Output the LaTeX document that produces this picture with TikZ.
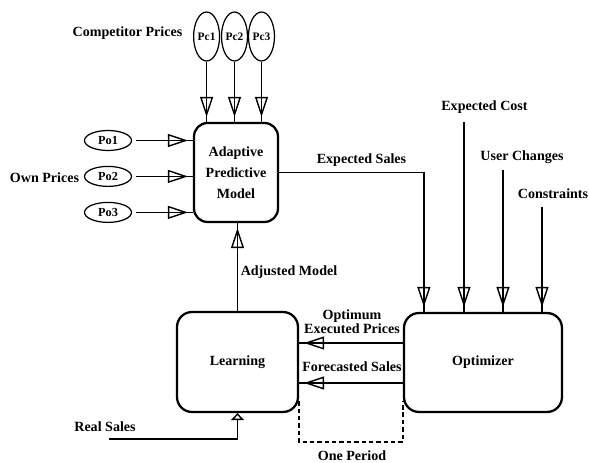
\documentclass[tikz,border=0pt]{standalone}
\usepackage{fontspec}
\setmainfont{Liberation Serif}
\usetikzlibrary{arrows.meta,shapes.geometric,decorations.markings}

\begin{document}
\begin{tikzpicture}[x=0.02cm,y=-0.02cm,
    font=\bfseries\fontsize{8}{12}\selectfont,
    block/.style={draw,line width=1.3pt,rounded corners=0.27cm,align=center,inner sep=0pt},
    cprice/.style={draw,ellipse,line width=0.7pt,inner sep=0pt,minimum width=0.52cm,minimum height=0.98cm,font=\bfseries\fontsize{6.5}{8}\selectfont},
    oprice/.style={cprice,minimum width=0.94cm,minimum height=0.4cm,font=\bfseries\fontsize{7}{8}\selectfont},
    feed/.style={draw,line width=0.8pt,postaction={decorate},
        decoration={markings,mark=at position -0.1cm with {\arrow{Triangle[open,length=0.4cm,width=0.26cm]}}}},
    period/.style={line width=0.8pt,dash pattern=on 2.5pt off 1.7pt}]
\useasboundingbox (0,0) rectangle (589,463);
    \node[block,minimum width=1.68cm,minimum height=1.98cm] (apm) at (236,172.5) {Adaptive\\Predictive\\Model};
    \node[block,rounded corners=0.3cm,minimum width=2.42cm,minimum height=2cm] (learn) at (237.5,362) {Learning};
    \node[block,rounded corners=0.3cm,minimum width=3.16cm,minimum height=1.98cm] (opt) at (483,362.5) {Optimizer};
    \node[cprice] (pc1) at (206.6,36.5) {Pc1};
    \node[cprice] (pc2) at (234.5,36.5) {Pc2};
    \node[cprice] (pc3) at (261.5,36.5) {Pc3};
    \node[oprice] (po1) at (108,140.5) {Po1};
    \node[oprice] (po2) at (108,176.4) {Po2};
    \node[oprice] (po3) at (108,212.4) {Po3};
    \node (cp) at (127.5,33) {Competitor Prices};
    \node (op) at (44.5,178) {Own Prices};
    \node (es) at (361.5,160) {Expected Sales};
    \node (ec) at (484.5,107) {Expected Cost};
    \node (uc) at (522,157) {User Changes};
    \node (cs) at (553,194) {Constraints};
    \node (am) at (289,272) {Adjusted Model};
    \node[font=\bfseries\fontsize{8}{8.2}\selectfont,align=center] (oe) at (352,322) {Optimum\\Executed Prices};
    \node (fs) at (352,367) {Forecasted Sales};
    \node (rs) at (105,427) {Real Sales};
    \node (pd) at (352,456) {One Period};
    \coordinate (ecin) at (464,122);
    \coordinate (ucin) at (503,170);
    \coordinate (csin) at (542,207);
    \coordinate (rsin) at (109,439);
    \coordinate (oeout) at ([yshift=0.39cm]opt.west);
    \coordinate (fsout) at ([yshift=-0.41cm]opt.west);
    \coordinate (pdlow) at (300,442);
    \foreach \n in {pc1,pc2,pc3}
        \path[feed] (\n) -- (\n |- apm.north);
    \foreach \n in {po1,po2,po3}
        \path[feed,shorten <=0.08cm] (\n) -- (\n -| apm.west);
    \path[feed] (apm.east) -| ([xshift=0.42cm]opt.north west);
    \foreach \n in {ecin,ucin,csin}
        \path[feed] (\n) -- (\n |- opt.north);
    \path[feed] (learn.north) -- (learn.north |- apm.south);
    \path[feed] (oeout) -- (oeout -| learn.east);
    \path[feed] (fsout) -- (fsout -| learn.east);
    \draw[line width=0.8pt,-{Triangle[open,length=0.14cm,width=0.26cm]}] (rsin) -| (learn.south);
    \draw[period] ([yshift=0.24cm]learn.south east) |- (pdlow -| opt.south west) -- ([yshift=0.24cm]opt.south west);
\end{tikzpicture}
\end{document}
